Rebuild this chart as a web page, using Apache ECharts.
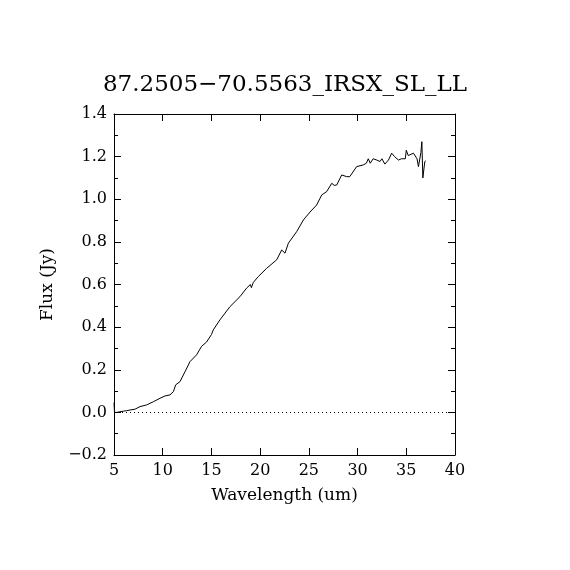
<!DOCTYPE html>
<html>
<head>
<meta charset="utf-8">
<script src="https://cdn.jsdelivr.net/npm/echarts@6/dist/echarts.min.js"></script>
<style>html,body{margin:0;padding:0;background:#fff}#c{width:570px;height:570px}</style>
</head>
<body>
<div id="c"></div>
<script>
const titleText = '87.2505\u221270.5563_IRSX_SL_LL';
const xTitle = 'Wavelength (um)';
const yTitle = 'Flux (Jy)';
const wavelength = [5.0, 5.05, 5.1, 5.3, 5.6, 6.0, 6.3, 6.64, 7.16, 7.67, 8.35, 9.04, 9.72, 10.23, 10.75, 11.09, 11.33, 11.77, 12.28, 12.8, 13.48, 13.99, 14.5, 15.0, 15.19, 15.87, 16.9, 17.93, 18.61, 19.0, 19.1, 19.3, 19.81, 20.67, 21.7, 22.21, 22.55, 22.9, 23.75, 24.44, 25.12, 25.8, 26.32, 26.83, 27.35, 27.6, 27.86, 28.37, 28.88, 29.2, 29.9, 30.58, 30.9, 31.1, 31.3, 31.6, 31.97, 32.3, 32.5, 32.8, 33.17, 33.5, 33.8, 34.2, 34.5, 34.9, 35.0, 35.2, 35.4, 35.74, 36.1, 36.25, 36.5, 36.6, 36.7, 36.9, 37.0];
const flux = [0.045, 0.0, 0.005, 0.0, 0.003, 0.006, 0.008, 0.011, 0.015, 0.027, 0.035, 0.05, 0.066, 0.077, 0.082, 0.097, 0.129, 0.144, 0.19, 0.238, 0.27, 0.31, 0.33, 0.365, 0.387, 0.434, 0.496, 0.543, 0.583, 0.60, 0.585, 0.61, 0.637, 0.676, 0.716, 0.762, 0.747, 0.794, 0.848, 0.903, 0.94, 0.973, 1.02, 1.036, 1.075, 1.065, 1.067, 1.114, 1.106, 1.106, 1.153, 1.161, 1.169, 1.19, 1.169, 1.19, 1.184, 1.177, 1.19, 1.165, 1.184, 1.216, 1.20, 1.184, 1.19, 1.19, 1.23, 1.205, 1.208, 1.216, 1.19, 1.153, 1.22, 1.27, 1.10, 1.177, 1.18];

const font = 'DejaVu Serif';
const fmtY = v => (v < 0 ? '\u2212' + Math.abs(v).toFixed(1) : v.toFixed(1));
const axisLine = {show: true, onZero: false, lineStyle: {color: '#000', width: 1}};
const tick = {show: true, inside: true, length: 7, lineStyle: {color: '#000', width: 1}};
const minorTick = {show: true, splitNumber: 2, length: 4, lineStyle: {color: '#000', width: 1}};

const chart = echarts.init(document.getElementById('c'), null, {renderer: 'canvas'});
chart.setOption({
  animation: false,
  backgroundColor: '#fff',
  title: {text: titleText, left: 'center', top: 69,
    textStyle: {fontFamily: font, fontWeight: 'normal', fontSize: 23, color: '#000'}},
  grid: {left: 114, right: 115, top: 114, bottom: 115},
  xAxis: [
    {type: 'value', min: 5, max: 40, interval: 5, position: 'bottom',
     name: xTitle, nameLocation: 'middle', nameGap: 32,
     nameTextStyle: {fontFamily: font, fontSize: 17, color: '#000'},
     axisLine, axisTick: tick, splitLine: {show: false},
     axisLabel: {fontFamily: font, fontSize: 16, color: '#000', margin: 8}},
    {type: 'value', min: 5, max: 40, interval: 5, position: 'top',
     axisLine, axisTick: tick, splitLine: {show: false}, axisLabel: {show: false}}
  ],
  yAxis: [
    {type: 'value', min: -0.2, max: 1.4, interval: 0.2, position: 'left',
     name: yTitle, nameLocation: 'middle', nameGap: 58, nameRotate: 90,
     nameTextStyle: {fontFamily: font, fontSize: 17, color: '#000'},
     axisLine, axisTick: tick, minorTick, splitLine: {show: false}, minorSplitLine: {show: false},
     axisLabel: {fontFamily: font, fontSize: 16, color: '#000', margin: 7, formatter: fmtY}},
    {type: 'value', min: -0.2, max: 1.4, interval: 0.2, position: 'right',
     axisLine, axisTick: tick, minorTick, splitLine: {show: false}, minorSplitLine: {show: false},
     axisLabel: {show: false}}
  ],
  series: [{
    type: 'line',
    data: wavelength.map((w, i) => [w, flux[i]]),
    showSymbol: false, symbol: 'none',
    lineStyle: {color: '#000', width: 1},
    markLine: {silent: true, symbol: 'none', label: {show: false},
      lineStyle: {color: '#000', type: [1, 3], width: 1},
      data: [{yAxis: 0}]}
  }]
});
</script>
</body>
</html>
